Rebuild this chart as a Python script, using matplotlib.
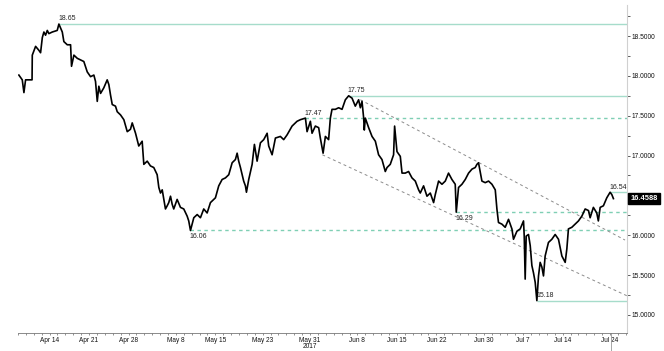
import numpy as np
import matplotlib
matplotlib.use('Agg')
import matplotlib.pyplot as plt
import matplotlib.transforms as mtransforms

plt.rcParams['font.family'] = ['Liberation Sans', 'DejaVu Sans']

start = '2017-04-10'

# time in trading days since the 10 Apr open, price
t = [0.11, 0.54, 0.75, 0.96, 1.59, 1.78, 1.81, 2.23, 2.65, 2.86, 3.08, 3.28, 3.49, 3.71, 3.91,
     4.34, 4.97, 5.18, 5.61, 5.81, 6.24, 6.66, 6.78, 7.08, 7.51, 7.92, 8.34, 8.77, 9.19, 9.61,
     9.82, 10.04, 10.24, 10.46, 10.87, 11.30, 11.51, 11.72, 11.94, 12.35, 12.57, 12.99,
     13.41, 13.84, 14.25, 14.47, 14.89, 15.30, 15.73, 15.94, 16.37, 16.78, 17.20, 17.63, 17.84,
     18.05, 18.27, 18.47, 18.68, 18.90, 19.10, 19.32, 19.53, 19.73, 20.16, 20.58, 21.00, 21.43,
     21.63, 21.85, 22.27, 22.70, 23.11, 23.53, 23.96, 24.38, 25.01, 25.43, 25.86, 26.28, 26.70,
     27.13, 27.54, 27.76, 27.96,
     28.18, 28.59, 28.81, 28.94, 29.23, 29.66, 29.95, 30.29, 30.71, 31.13, 31.56, 31.76, 32.19,
     32.61, 33.24, 33.66, 34.09, 34.72, 35.35, 35.77, 36.41, 36.62, 37.04, 37.25, 37.67, 38.09,
     38.30, 38.65, 38.94, 39.35, 39.57, 39.78, 40.20, 40.62, 41.05, 41.47, 41.89, 42.32, 42.73,
     43.15, 43.37, 43.58, 43.79, 43.87, 44.00, 44.42, 44.85, 45.27, 45.68, 46.11, 46.53, 46.75,
     47.16, 47.58, 47.71, 48.01, 48.43, 48.65, 49.06, 49.48, 49.91, 50.33, 50.75, 50.96, 51.38,
     51.81, 52.23, 52.65, 52.86, 53.28, 53.71, 54.13, 54.54, 54.97, 55.39, 55.52, 55.81, 56.24,
     56.66, 57.08, 57.51, 57.92,
     58.14, 58.34, 58.77, 59.19, 59.61, 60.04, 60.46, 60.67, 60.87, 61.30, 61.72, 62.14, 62.57,
     62.77, 63.20, 63.62, 64.04, 64.13, 64.25, 64.38, 64.67, 64.89, 65.10, 65.30, 65.52, 65.73,
     65.94, 66.15, 66.37, 66.57, 66.78, 67.20, 67.63, 68.05, 68.47, 68.90, 69.32, 69.53, 69.73,
     70.16, 70.58, 71.00, 71.43, 71.85, 72.27, 72.48, 72.89, 73.32, 73.52, 73.75, 74.16, 74.59,
     75.01, 75.23, 75.43]
price = [18.01, 17.95, 17.79, 17.95, 17.95, 17.95, 18.26, 18.37, 18.32, 18.29, 18.48, 18.55, 18.51,
         18.57, 18.53, 18.55, 18.57, 18.65, 18.55, 18.43, 18.39, 18.39, 18.12, 18.26, 18.22, 18.20,
         18.18, 18.05, 17.99, 18.01, 17.93, 17.68, 17.87, 17.78, 17.85, 17.95, 17.89, 17.76, 17.64,
         17.62, 17.55, 17.51,
         17.45, 17.30, 17.33, 17.41, 17.28, 17.12, 17.18, 16.89, 16.93, 16.87, 16.85, 16.76, 16.60,
         16.53, 16.57, 16.45, 16.33, 16.37, 16.41, 16.49, 16.39, 16.33, 16.45, 16.35, 16.33, 16.24,
         16.18, 16.06, 16.22, 16.26, 16.22, 16.33, 16.28, 16.41, 16.47, 16.62, 16.70, 16.72, 16.76,
         16.91, 16.95, 17.03, 16.93,
         16.85, 16.68, 16.62, 16.54, 16.70, 16.89, 17.14, 16.93, 17.16, 17.20, 17.28, 17.12, 17.01,
         17.22, 17.24, 17.20, 17.26, 17.37, 17.43, 17.45, 17.47, 17.30, 17.43, 17.28, 17.37, 17.35,
         17.22, 17.03, 17.24, 17.20, 17.47, 17.58, 17.58, 17.60, 17.58, 17.70, 17.75, 17.72, 17.62,
         17.70, 17.60, 17.68, 17.47, 17.32, 17.47, 17.35, 17.24, 17.18, 17.01, 16.95, 16.80, 16.85,
         16.89, 17.01, 17.37, 17.05, 16.99, 16.78, 16.78, 16.80, 16.72, 16.68, 16.57, 16.53, 16.62,
         16.49, 16.53, 16.41, 16.51, 16.68, 16.64, 16.68, 16.78, 16.70, 16.64, 16.29, 16.60, 16.64,
         16.70, 16.78, 16.83, 16.85,
         16.89, 16.91, 16.68, 16.66, 16.68, 16.64, 16.57, 16.33, 16.16, 16.14, 16.10, 16.20, 16.08,
         15.95, 16.05, 16.08, 16.18, 15.99, 15.45, 15.99, 16.01, 15.87, 15.62, 15.53, 15.41, 15.18,
         15.49, 15.66, 15.60, 15.49, 15.74, 15.91, 15.95, 16.01, 15.95, 15.74, 15.66, 15.83, 16.08,
         16.10, 16.14, 16.18, 16.24, 16.33, 16.31, 16.22, 16.35, 16.28, 16.18, 16.35, 16.37, 16.47,
         16.54, 16.51, 16.46]
last_price = 16.4588

tick_dates = ['2017-04-14', '2017-04-21', '2017-04-28', '2017-05-08', '2017-05-15', '2017-05-23',
              '2017-05-31', '2017-06-08', '2017-06-15', '2017-06-22', '2017-06-30', '2017-07-07',
              '2017-07-14', '2017-07-24']
tick_labels = ['Apr 14', 'Apr 21', 'Apr 28', 'May 8', 'May 15', 'May 23', 'May 31\n2017',
               'Jun 8', 'Jun 15', 'Jun 22', 'Jun 30', 'Jul 7', 'Jul 14', 'Jul 24']

# support / resistance levels: value, time where they start
lvl_value = [18.65, 17.75, 17.47, 16.29, 16.06, 15.18, 16.54]
lvl_from = [5.18, 41.89, 36.41, 55.52, 21.85, 65.73, 75.01]
lvl_dashed = [False, False, True, True, True, False, False]
lvl_below = [False, False, False, True, True, False, False]

# falling channel
chan_t = [[43.37, 76.9], [38.56, 77.16]]
chan_p = [[17.70, 15.94], [17.01, 15.24]]

x0, x1 = 0.08, 77.15
y0, y1 = 14.774, 18.889

fig = plt.figure(figsize=(6.64, 3.51), dpi=100)
ax = fig.add_axes([18 / 664, 1 - 333 / 351, 609 / 664, 328 / 351])

for v, f, d, b in zip(lvl_value, lvl_from, lvl_dashed, lvl_below):
    if d:
        ax.hlines(v, f, x1, color='#7fcfb4', lw=1.0, linestyles=(0, (2.5, 2.5)), zorder=1)
    else:
        ax.hlines(v, f, x1, color='#a6dccb', lw=1.0, zorder=1)
    ax.text(f - 0.1, v + (-0.035 if b else 0.02), '%.2f' % v, fontsize=5, color='#222222',
            va='top' if b else 'bottom', ha='left', zorder=4)

for ct, cp in zip(chan_t, chan_p):
    ax.plot(ct, cp, color='#8c8c8c', lw=0.7, dashes=(3, 3), zorder=1)

ax.plot(t, price, color='black', lw=1.2, zorder=3)

ax.set_xlim(x0, x1)
ax.set_ylim(y0, y1)

ax.set_xticks(np.busday_count(start, tick_dates))
ax.set_xticklabels(tick_labels, linespacing=0.9)
ax.set_xticks(np.arange(0, 78), minor=True)

ax.yaxis.tick_right()
ax.set_yticks(np.arange(15.0, 18.51, 0.5))
ax.set_yticklabels(['%.4f' % v for v in np.arange(15.0, 18.51, 0.5)])
ax.set_yticks(np.arange(15.25, 18.8, 0.5), minor=True)

ax.tick_params(axis='x', which='both', labelsize=4.7, length=1.5, width=0.5, color='#666666',
               pad=1.2, labelcolor='#111111')
ax.tick_params(axis='y', which='both', labelsize=4.8, length=2, width=0.6, color='#444444',
               pad=1, labelcolor='#111111')

for s in ['left', 'top']:
    ax.spines[s].set_visible(False)
ax.spines['right'].set_color('#d0d0d0')
ax.spines['bottom'].set_color('#777777')
ax.spines['bottom'].set_linewidth(0.6)

# last price tag sits on top of the right axis labels, as in the terminal chart
trans = mtransforms.blended_transform_factory(ax.transAxes, ax.transData)
ax.text(1.005, last_price, '%.4f' % last_price, transform=trans, fontsize=5.4, color='white',
        fontweight='bold', va='center', ha='left', zorder=10,
        bbox=dict(boxstyle='square,pad=0.3', fc='black', ec='black'))

vtrans = mtransforms.blended_transform_factory(ax.transData, ax.transAxes)
ax.plot([t[-1] - 0.3, t[-1] - 0.3], [-0.055, 0], transform=vtrans, color='#999999', lw=0.6,
        clip_on=False)

fig.savefig('out.png', dpi=100)
